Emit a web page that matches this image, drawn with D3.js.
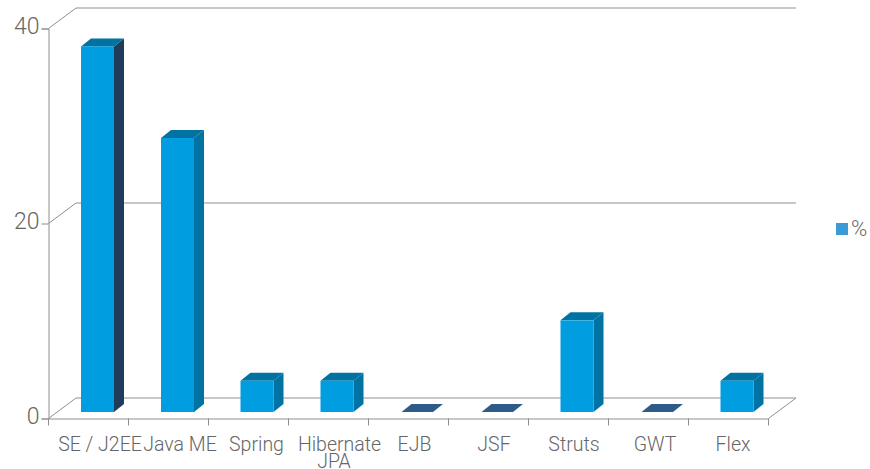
<!DOCTYPE html>
<html>
<head>
<meta charset="utf-8">
<script src="https://d3js.org/d3.v7.min.js"></script>
<style>
body { margin: 0; background: #fff; }
text { font-family: "Roboto", "Liberation Sans", sans-serif; font-weight: 300; fill: #666; }
</style>
</head>
<body>
<svg id="chart" width="870" height="469"></svg>
<script>
var categories = ['SE / J2EE', 'Java ME', 'Spring', 'Hibernate JPA', 'EJB', 'JSF', 'Struts', 'GWT', 'Flex'];
var percent = [37.5, 28.1, 3.2, 3.2, 0, 0, 9.4, 0, 3.2];
var yTicks = [0, 20, 40];
var legendLabel = '%';

var svg = d3.select('#chart');

var x = d3.scaleBand().domain(categories).range([48.5, 768.5]);
var y = d3.scaleLinear().domain([0, 40]).range([418.5, 28.5]);

// depth of the floor and of the bars
var depthX = 27.5, depthY = -20.5;
var barDepthX = 10, barDepthY = -8;
var barOffsetY = -6.5;
var barWidth = 33;

// the labels are not centred on their band in the original
var labelShift = [11.5, 11.5, 8, 11, 6, 5.5, 5.5, 6.5, 4.5];

function poly(points) {
    return points.map(function (p) { return p.join(','); }).join(' ');
}

var grid = svg.append('g').attr('fill', 'none');

yTicks.forEach(function (t) {
    grid.append('polyline')
        .attr('points', poly([
            [x.range()[0], y(t)],
            [x.range()[0] + depthX, y(t) + depthY],
            [x.range()[1] + depthX, y(t) + depthY]
        ]))
        .attr('stroke', '#8f8f88')
        .attr('stroke-width', 1);
});

// right edge of the floor
grid.append('line')
    .attr('x1', x.range()[1]).attr('y1', y(0))
    .attr('x2', x.range()[1] + depthX).attr('y2', y(0) + depthY)
    .attr('stroke', '#8f8f88');

var yAxis = d3.axisLeft(y).tickValues(yTicks).tickSize(7).tickPadding(2);
var yG = svg.append('g').attr('class', 'axis')
    .attr('transform', 'translate(' + x.range()[0] + ',0)')
    .call(yAxis);
yG.select('.domain').attr('stroke', '#8f8f88');
yG.selectAll('.tick line').attr('stroke', '#8f8f88');
yG.selectAll('text')
    .style('font-family', '"Roboto", "Liberation Sans", sans-serif')
    .style('font-size', '23px')
    .attr('dy', '0.22em')
    .attr('fill', '#666');

var xAxis = d3.axisBottom(x).tickSize(0).tickFormat('');
var xG = svg.append('g').attr('class', 'axis')
    .attr('transform', 'translate(0,' + y(0) + ')')
    .call(xAxis);
xG.select('.domain').attr('stroke', '#8f8f88');

// tick marks sit between the categories
var edges = categories.map(function (c) { return x(c); }).concat([x.range()[1]]);
xG.selectAll('.edge').data(edges).enter().append('line')
    .attr('class', 'edge')
    .attr('x1', function (d) { return d; })
    .attr('x2', function (d) { return d; })
    .attr('y1', 0).attr('y2', 7)
    .attr('stroke', '#8f8f88');

categories.forEach(function (c, n) {
    var words = c === 'Hibernate JPA' ? ['Hibernate', 'JPA'] : [c];
    var label = svg.append('text')
        .attr('text-anchor', 'middle')
        .style('font-size', '19.5px');
    words.forEach(function (w, i) {
        // second line of Hibernate JPA sits a little left of the first
        label.append('tspan')
            .attr('x', x(c) + x.bandwidth() / 2 + labelShift[n] - i * 5.5)
            .attr('y', 450.5 + i * 17.5)
            .text(w);
    });
});

var bars = svg.selectAll('.bar').data(categories).enter().append('g').attr('class', 'bar');

bars.each(function (c, i) {
    var g = d3.select(this);
    var left = x(c) + 32.5 - (i === 2 || i === 3 || i === 6 || i === 8 ? 0.5 : 0);
    var right = left + barWidth;
    var bottom = y(0) + barOffsetY;
    var top = y(percent[i]) + barOffsetY;

    if (percent[i] === 0) {
        g.append('polygon')
            .attr('points', poly([
                [left + 0.5, bottom],
                [left + barWidth - 1, bottom],
                [right - 1 + barDepthX, bottom + barDepthY],
                [left + 0.5 + barDepthX, bottom + barDepthY]
            ]))
            .attr('fill', '#2f5b8a');
        return;
    }

    g.append('polygon')
        .attr('points', poly([
            [right, bottom],
            [right + barDepthX, bottom + barDepthY],
            [right + barDepthX, top + barDepthY],
            [right, top]
        ]))
        .attr('fill', i === 0 ? '#1f3d5a' : '#0073a3');

    g.append('polygon')
        .attr('points', poly([
            [left, top],
            [right, top],
            [right + barDepthX, top + barDepthY],
            [left + barDepthX, top + barDepthY]
        ]))
        .attr('fill', '#0073a3');

    g.append('rect')
        .attr('x', left)
        .attr('y', top)
        .attr('width', barWidth)
        .attr('height', bottom - top)
        .attr('fill', '#009ee0');
});

// legend
svg.append('rect')
    .attr('x', 836).attr('y', 223)
    .attr('width', 12).attr('height', 12)
    .attr('fill', '#3a9bd5');
svg.append('text')
    .attr('x', 851).attr('y', 235.5)
    .style('font-size', '22px')
    .text(legendLabel);
</script>
</body>
</html>
